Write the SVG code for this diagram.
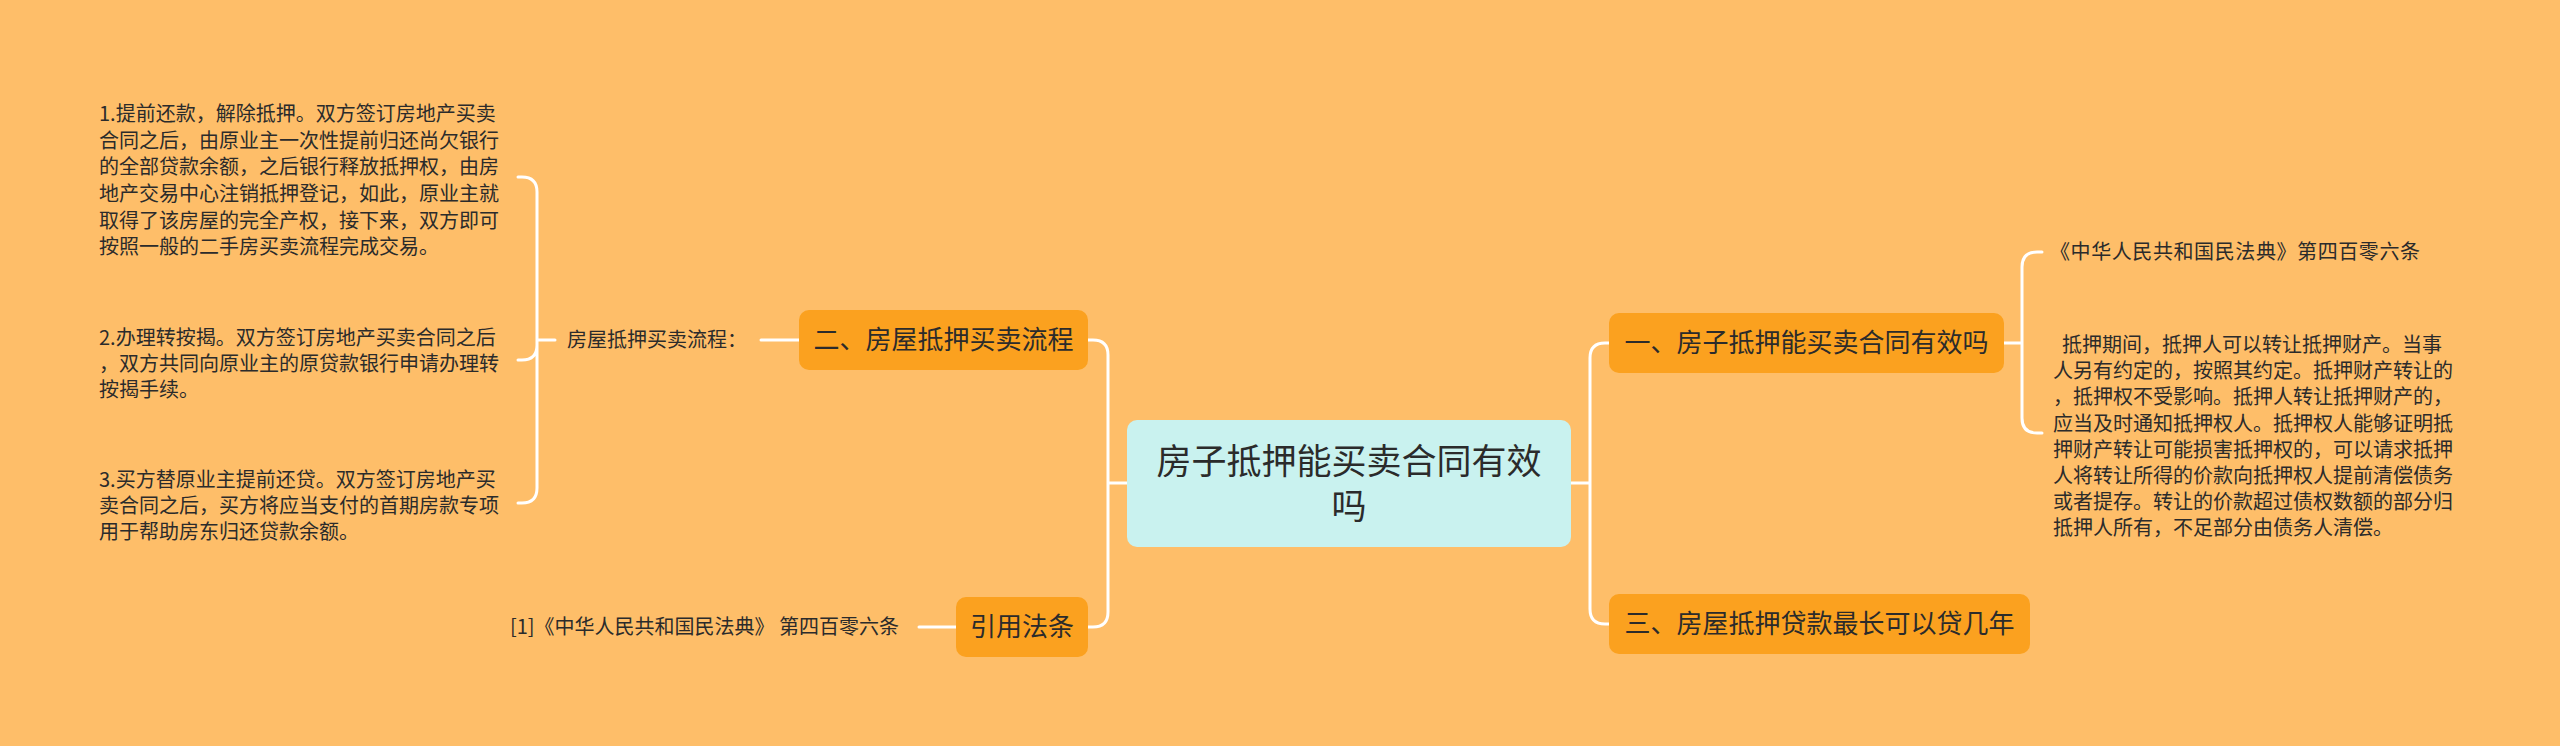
<svg xmlns="http://www.w3.org/2000/svg" width="2560" height="746" viewBox="0 0 2560 746">
<style>
.bg{fill:#FEBE69}
.l1{fill:#FBA11F}
.root{fill:#C9F2EF}
.t{font-family:"Noto Sans CJK SC","Liberation Sans",sans-serif;fill:#2b2b2b}
.t1{font-size:26px;text-anchor:middle}
.t0{font-size:35px;text-anchor:middle}
.t2{font-size:20px;white-space:pre}
.c{fill:none;stroke:#FFFFFF;stroke-width:3;stroke-linecap:round}
</style>
<rect class="bg" x="0" y="0" width="2560" height="746"/>
<g id="connectors">
  <path class="c" d="M1127 483 H1108 M1088 340 H1093 Q1108 340 1108 355 V612 Q1108 627 1093 627 H1088"/>
  <path class="c" d="M1571 483 H1590 M1609 343 H1605 Q1590 343 1590 358 V609 Q1590 624 1605 624 H1609"/>
  <path class="c" d="M2004 343 H2022 M2042 252 H2037 Q2022 252 2022 267 V418 Q2022 433 2037 433 H2042"/>
  <path class="c" d="M761 340 H799"/>
  <path class="c" d="M555 340 H537 M518 177 H522 Q537 177 537 192 V488 Q537 503 522 503 H518 M537 345 Q537 360 522 360 H518"/>
  <path class="c" d="M919 627 H956"/>
</g>
<g id="root">
  <rect class="root" x="1127" y="420" width="444" height="127" rx="10"/>
  <text class="t t0" x="1349" y="474">房子抵押能买卖合同有效<tspan x="1349" dy="45">吗</tspan></text>
</g>
<g id="n-left-1">
  <rect class="l1" x="799" y="310" width="289" height="60" rx="10"/>
  <text class="t t1" x="943.5" y="349">二、房屋抵押买卖流程</text>
</g>
<g id="n-left-2">
  <rect class="l1" x="956" y="597" width="132" height="60" rx="10"/>
  <text class="t t1" x="1022" y="636">引用法条</text>
</g>
<g id="n-right-1">
  <rect class="l1" x="1609" y="313" width="395" height="60" rx="10"/>
  <text class="t t1" x="1806.5" y="352">一、房子抵押能买卖合同有效吗</text>
</g>
<g id="n-right-2">
  <rect class="l1" x="1609" y="594" width="421" height="60" rx="10"/>
  <text class="t t1" x="1819.5" y="633">三、房屋抵押贷款最长可以贷几年</text>
</g>
<g id="n-process">
  <text class="t t2" x="567" y="347">房屋抵押买卖流程：</text>
</g>
<g id="n-step1">
  <text class="t t2" x="99" y="121">1.提前还款，解除抵押。双方签订房地产买卖</text>
  <text class="t t2" x="99" y="148">合同之后，由原业主一次性提前归还尚欠银行</text>
  <text class="t t2" x="99" y="174">的全部贷款余额，之后银行释放抵押权，由房</text>
  <text class="t t2" x="99" y="201">地产交易中心注销抵押登记，如此，原业主就</text>
  <text class="t t2" x="99" y="228">取得了该房屋的完全产权，接下来，双方即可</text>
  <text class="t t2" x="99" y="254">按照一般的二手房买卖流程完成交易。</text>
</g>
<g id="n-step2">
  <text class="t t2" x="99" y="345">2.办理转按揭。双方签订房地产买卖合同之后</text>
  <text class="t t2" x="99" y="371">，双方共同向原业主的原贷款银行申请办理转</text>
  <text class="t t2" x="99" y="397">按揭手续。</text>
</g>
<g id="n-step3">
  <text class="t t2" x="99" y="487">3.买方替原业主提前还贷。双方签订房地产买</text>
  <text class="t t2" x="99" y="513">卖合同之后，买方将应当支付的首期房款专项</text>
  <text class="t t2" x="99" y="539">用于帮助房东归还贷款余额。</text>
</g>
<g id="n-cite">
  <text class="t t2" x="510" y="634">[1]《中华人民共和国民法典》 第四百零六条</text>
</g>
<g id="n-law">
  <text class="t t2" x="2050" y="259" textLength="370">《中华人民共和国民法典》第四百零六条</text>
</g>
<g id="n-law-text">
  <text class="t t2" x="2053" y="352">  抵押期间，抵押人可以转让抵押财产。当事</text>
  <text class="t t2" x="2053" y="378">人另有约定的，按照其约定。抵押财产转让的</text>
  <text class="t t2" x="2053" y="404">，抵押权不受影响。抵押人转让抵押财产的，</text>
  <text class="t t2" x="2053" y="431">应当及时通知抵押权人。抵押权人能够证明抵</text>
  <text class="t t2" x="2053" y="457">押财产转让可能损害抵押权的，可以请求抵押</text>
  <text class="t t2" x="2053" y="483">人将转让所得的价款向抵押权人提前清偿债务</text>
  <text class="t t2" x="2053" y="509">或者提存。转让的价款超过债权数额的部分归</text>
  <text class="t t2" x="2053" y="535">抵押人所有，不足部分由债务人清偿。</text>
</g>
</svg>
